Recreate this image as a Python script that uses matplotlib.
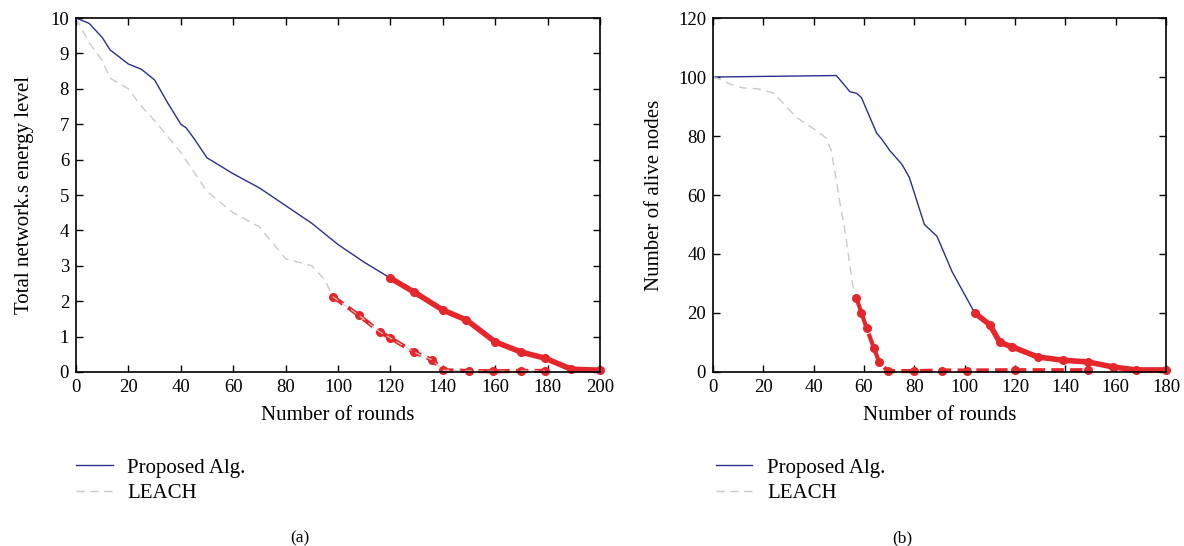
import matplotlib
matplotlib.use("Agg")
import matplotlib.pyplot as plt

plt.rcParams['font.family'] = ['Liberation Serif', 'DejaVu Serif']

# ---- Panel (a): total energy ----
a_prop_x = [0, 5, 10, 13, 20, 25, 30, 35, 40, 42, 45, 50, 60, 70, 80, 90, 100, 110, 120]
a_prop_y = [10, 9.85, 9.45, 9.1, 8.7, 8.55, 8.25, 7.6, 7.0, 6.9, 6.6, 6.05, 5.6, 5.2, 4.7, 4.2, 3.6, 3.1, 2.65]
a_prop_red_x = [120, 129, 140, 149, 160, 170, 179, 189, 200]
a_prop_red_y = [2.65, 2.26, 1.75, 1.47, 0.85, 0.56, 0.39, 0.08, 0.05]
a_leach_x = [0, 5, 10, 13, 20, 25, 30, 40, 50, 60, 70, 80, 90, 95, 98]
a_leach_y = [10, 9.3, 8.8, 8.3, 8.0, 7.5, 7.1, 6.2, 5.1, 4.5, 4.1, 3.2, 3.0, 2.6, 2.13]
a_leach_red_x = [98, 108, 116, 120, 129, 136, 140, 150, 159, 170, 179]
a_leach_red_y = [2.13, 1.6, 1.13, 0.96, 0.56, 0.34, 0.05, 0.03, 0.02, 0.03, 0.03]
a_xticks = list(range(0, 201, 20))
a_yticks = list(range(0, 11))

# ---- Panel (b): alive nodes ----
b_prop_x = [0, 49, 52, 54.4, 57, 59, 62, 65, 67, 70.3, 75, 78, 84, 89, 95, 104]
b_prop_y = [100, 100.5, 97.5, 95, 94.5, 93, 87, 81, 79, 75, 70.5, 66, 50, 46, 34, 20]
b_prop_red_x = [104, 110, 114, 119, 129, 139, 149, 159, 168, 180]
b_prop_red_y = [20, 16, 10, 8.5, 5.1, 4.0, 3.4, 1.7, 0.7, 0.7]
b_leach_x = [0, 2, 7, 12, 18, 24, 28, 33, 40, 45, 47, 49, 50.5, 52.4, 55.6, 57]
b_leach_y = [100, 99.5, 97.5, 96.3, 96, 94.6, 91, 86.4, 82.5, 79.3, 75, 65, 57, 48, 29, 25]
b_leach_red_x = [57, 59, 61, 64, 66, 69.5, 80, 91, 101, 120, 149]
b_leach_red_y = [25, 20, 15, 8, 3.4, 0.3, 0.3, 0.5, 0.5, 0.6, 0.6]
b_xticks = list(range(0, 181, 20))
b_yticks = list(range(0, 121, 20))

BLUE = '#2b2f8f'
GRAY = '#c5ccc5'
RED = '#e5262b'

fig = plt.figure(figsize=(11.84, 5.46), dpi=100)
axa = fig.add_axes([0.0642, 0.3187, 0.4426, 0.6483])
axb = fig.add_axes([0.6022, 0.3187, 0.3826, 0.6483])

def style(ax, xt, yt, xlim, ylim, ylabel, ylpad):
    ax.set_xlim(*xlim)
    ax.set_ylim(*ylim)
    ax.set_xticks(xt)
    ax.set_yticks(yt)
    ax.tick_params(direction='in', top=True, right=True, labelsize=13.5, length=5, width=1, pad=5)
    for s in ax.spines.values():
        s.set_linewidth(1.2)
    ax.set_xlabel('Number of rounds', fontsize=15, labelpad=7)
    ax.set_ylabel(ylabel, fontsize=15, labelpad=ylpad)

def legend(ax, handles):
    ax.legend(handles=handles, loc='upper left', bbox_to_anchor=(-0.035, -0.19), frameon=False,
              fontsize=15, handlelength=1.75, handletextpad=0.7, labelspacing=0.3)

# panel a
la, = axa.plot(a_prop_x, a_prop_y, color=BLUE, lw=1.0, label='Proposed Alg.')
lb, = axa.plot(a_leach_x, a_leach_y, color=GRAY, lw=1.0, ls=(0, (6, 4)), label='LEACH')
axa.plot(a_prop_red_x, a_prop_red_y, color=RED, lw=4, marker='o', ms=5.5, solid_capstyle='round', clip_on=False)
axa.plot(a_leach_red_x, a_leach_red_y, color=RED, lw=3, ls=(0, (3, 1.5)), marker='o', ms=5.5, clip_on=False)
axa.plot(a_leach_red_x, a_leach_red_y, color=GRAY, lw=0.8, ls=(0, (6, 4)))
style(axa, a_xticks, a_yticks, (0, 200), (0, 10), 'Total network.s energy level', 12)
legend(axa, [la, lb])
fig.text(0.2535, 0.006, '(a)', ha='center', fontsize=12.5)

# panel b
lc, = axb.plot(b_prop_x, b_prop_y, color=BLUE, lw=1.0, label='Proposed Alg.')
ld, = axb.plot(b_leach_x, b_leach_y, color=GRAY, lw=1.0, ls=(0, (6, 4)), label='LEACH')
axb.plot(b_prop_red_x, b_prop_red_y, color=RED, lw=4, marker='o', ms=5.5, clip_on=False)
axb.plot(b_leach_red_x, b_leach_red_y, color=RED, lw=3, ls=(0, (3, 1.5)), marker='o', ms=5.5, clip_on=False)
style(axb, b_xticks, b_yticks, (0, 180), (0, 120), 'Number of alive nodes', 10)
legend(axb, [lc, ld])
fig.text(0.7618, 0.006, '(b)', ha='center', fontsize=12.5)

fig.savefig('out.png', dpi=100)
